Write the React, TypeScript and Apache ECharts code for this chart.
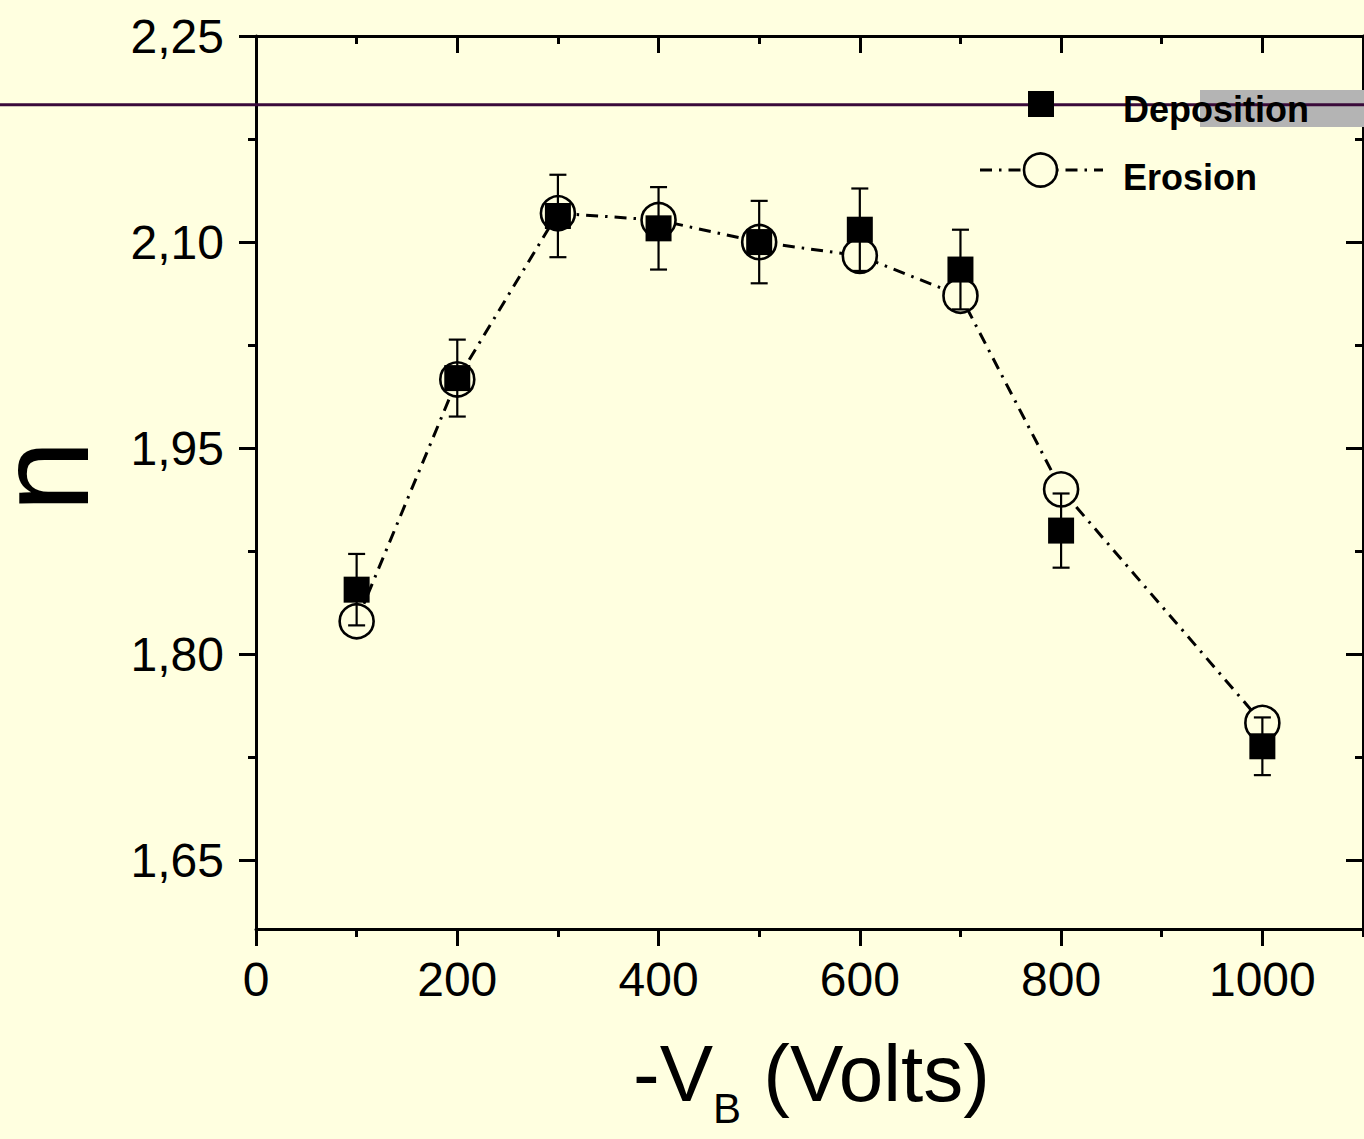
import React, { useEffect, useRef } from 'react';
import * as echarts from 'echarts';

// ---------- data ----------
const voltage = [100, 200, 300, 400, 500, 600, 700, 800, 1000];
const deposition = [1.847, 2.001, 2.119, 2.110, 2.100, 2.109, 2.080, 1.890, 1.733];
const depositionErr = [0.026, 0.028, 0.030, 0.030, 0.030, 0.030, 0.029, 0.027, 0.021];
const erosion = [1.824, 2.000, 2.121, 2.116, 2.100, 2.090, 2.061, 1.920, 1.750];

const xMajorTicks = [0, 200, 400, 600, 800, 1000];
const xMinorTicks = [100, 300, 500, 700, 900, 1100];
const yMajorTicks = [1.65, 1.80, 1.95, 2.10, 2.25];
const yMinorTicks = [1.725, 1.875, 2.025, 2.175];
const referenceLevel = 2.2;
const seriesNames = ['Deposition', 'Erosion'];
const yAxisName = 'n';
const xAxisNameParts = ['-V', 'B', ' (Volts)'];

// ---------- styles ----------
const FONT = '"Liberation Sans", Arial, Helvetica, sans-serif';
const BG = '#FFFFE0';
const INK = '#000000';
const DASH_DOT = [12, 7, 2.5, 7];

const X_RANGE = { min: 0, max: 1100 };
const Y_RANGE = { min: 1.6, max: 2.25 };

function xAxisDef(position: 'top' | 'bottom', ticks: number[], len: number, major: boolean, labels: boolean) {
  return {
    type: 'value',
    position,
    ...X_RANGE,
    splitLine: { show: false },
    axisLine: { show: major, onZero: false, lineStyle: { color: INK, width: 3 } },
    axisTick: {
      show: true,
      inside: position === 'top',
      length: len,
      customValues: ticks,
      lineStyle: { color: INK, width: 3 },
    },
    axisLabel: labels
      ? {
          show: true,
          customValues: ticks,
          margin: 26,
          color: INK,
          fontFamily: FONT,
          fontSize: 48,
          formatter: (v: number) => String(v),
        }
      : { show: false },
  };
}

function yAxisDef(position: 'left' | 'right', ticks: number[], len: number, major: boolean, labels: boolean) {
  return {
    type: 'value',
    position,
    ...Y_RANGE,
    splitLine: { show: false },
    axisLine: { show: major, onZero: false, lineStyle: { color: INK, width: 3 } },
    axisTick: {
      show: true,
      inside: position === 'right',
      length: len,
      customValues: ticks,
      lineStyle: { color: INK, width: 3 },
    },
    axisLabel: labels
      ? {
          show: true,
          customValues: ticks,
          margin: 32,
          color: INK,
          fontFamily: FONT,
          fontSize: 48,
          formatter: (v: number) => v.toFixed(2).replace('.', ','),
        }
      : { show: false },
  };
}

export default function App() {
  const ref = useRef<HTMLDivElement | null>(null);

  useEffect(() => {
    if (!ref.current) return;
    const chart = echarts.init(ref.current, undefined, { renderer: 'svg' });

    const option: any = {
      animation: false,
      backgroundColor: BG,
      grid: { left: 256, top: 36, right: 1, bottom: 210, containLabel: false, outerBoundsMode: 'none' },
      xAxis: [
        xAxisDef('bottom', xMajorTicks, 17, true, true),
        xAxisDef('bottom', xMinorTicks, 8, false, false),
        xAxisDef('top', xMajorTicks, 17, true, false),
        xAxisDef('top', xMinorTicks, 8, false, false),
      ],
      yAxis: [
        yAxisDef('left', yMajorTicks, 17, true, true),
        yAxisDef('left', yMinorTicks, 8, false, false),
        yAxisDef('right', yMajorTicks, 17, true, false),
        yAxisDef('right', yMinorTicks, 8, false, false),
      ],
      series: [
        {
          name: seriesNames[1],
          type: 'line',
          xAxisIndex: 0,
          yAxisIndex: 0,
          data: voltage.map((v, i) => [v, erosion[i]]),
          symbol: 'circle',
          symbolSize: 34,
          showAllSymbol: true,
          itemStyle: { color: BG, borderColor: INK, borderWidth: 2.6, opacity: 1 },
          lineStyle: { color: INK, width: 3, type: DASH_DOT },
          z: 2,
          silent: true,
        },
        {
          name: seriesNames[0],
          type: 'scatter',
          xAxisIndex: 0,
          yAxisIndex: 0,
          data: voltage.map((v, i) => [v, deposition[i]]),
          symbol: 'rect',
          symbolSize: 26,
          itemStyle: { color: INK, opacity: 1 },
          z: 3,
          silent: true,
        },
        {
          name: 'errorbars',
          type: 'custom',
          xAxisIndex: 0,
          yAxisIndex: 0,
          data: voltage.map((v, i) => [v, deposition[i] - depositionErr[i], deposition[i] + depositionErr[i]]),
          encode: { x: 0, y: [1, 2] },
          z: 4,
          silent: true,
          renderItem: (_params: any, api: any) => {
            const x = api.value(0);
            const lo = api.coord([x, api.value(1)]);
            const hi = api.coord([x, api.value(2)]);
            const hw = 8.5;
            const style = { stroke: INK, lineWidth: 2.2, fill: null };
            return {
              type: 'group',
              children: [
                { type: 'line', shape: { x1: lo[0], y1: lo[1], x2: hi[0], y2: hi[1] }, style },
                { type: 'line', shape: { x1: lo[0] - hw, y1: lo[1], x2: lo[0] + hw, y2: lo[1] }, style },
                { type: 'line', shape: { x1: hi[0] - hw, y1: hi[1], x2: hi[0] + hw, y2: hi[1] }, style },
              ],
            };
          },
        },
      ],
    };
    chart.setOption(option);

    const width = chart.getWidth();
    const yRef = chart.convertToPixel({ yAxisIndex: 0 }, referenceLevel) as number;

    // x title pieces (Liberation Sans advance widths: '-' .333, 'V' .667, 'B' .667)
    const titleX0 = 633;
    const mainSize = 80;
    const subSize = 42;
    const subX = titleX0 + (0.333 + 0.667) * mainSize;
    const restX = subX + 0.667 * subSize;

    chart.setOption({
      graphic: [
        {
          type: 'rect',
          id: 'grayPatch',
          z: 10,
          shape: { x: 1200, y: 90, width: 164, height: 37 },
          style: { fill: '#b4b4b4' },
          silent: true,
        },
        {
          type: 'line',
          id: 'refLine',
          z: 11,
          shape: { x1: 0, y1: yRef, x2: width, y2: yRef },
          style: { stroke: '#3a0a3a', lineWidth: 3 },
          silent: true,
        },
        // legend: Deposition
        {
          type: 'rect',
          id: 'legSquare',
          z: 12,
          shape: { x: 1028, y: 91, width: 26, height: 26 },
          style: { fill: INK },
          silent: true,
        },
        {
          type: 'text',
          id: 'legText1',
          z: 12,
          x: 1123,
          y: 109,
          style: {
            text: seriesNames[0],
            fill: INK,
            font: `bold 36px ${FONT}`,
            textAlign: 'left',
            textVerticalAlign: 'middle',
          },
          silent: true,
        },
        // legend: Erosion
        {
          type: 'line',
          id: 'legLine',
          z: 12,
          shape: { x1: 980, y1: 170, x2: 1103, y2: 170 },
          style: { stroke: INK, lineWidth: 3, lineDash: DASH_DOT },
          silent: true,
        },
        {
          type: 'circle',
          id: 'legCircle',
          z: 13,
          shape: { cx: 1040.5, cy: 170, r: 16.5 },
          style: { fill: BG, stroke: INK, lineWidth: 2.6 },
          silent: true,
        },
        {
          type: 'text',
          id: 'legText2',
          z: 12,
          x: 1123,
          y: 177,
          style: {
            text: seriesNames[1],
            fill: INK,
            font: `bold 36px ${FONT}`,
            textAlign: 'left',
            textVerticalAlign: 'middle',
          },
          silent: true,
        },
        // y axis name
        {
          type: 'text',
          id: 'yName',
          z: 12,
          x: 43,
          y: 476,
          rotation: Math.PI / 2,
          style: {
            text: yAxisName,
            fill: INK,
            font: `130px ${FONT}`,
            lineHeight: 80,
            textAlign: 'center',
            textVerticalAlign: 'middle',
          },
          silent: true,
        },
        // x axis title: -V_B (Volts)
        {
          type: 'text',
          id: 'xName1',
          z: 12,
          x: titleX0,
          y: 1073,
          style: {
            text: xAxisNameParts[0],
            fill: INK,
            font: `${mainSize}px ${FONT}`,
            textAlign: 'left',
            textVerticalAlign: 'middle',
          },
          silent: true,
        },
        {
          type: 'text',
          id: 'xName2',
          z: 12,
          x: subX,
          y: 1108,
          style: {
            text: xAxisNameParts[1],
            fill: INK,
            font: `${subSize}px ${FONT}`,
            textAlign: 'left',
            textVerticalAlign: 'middle',
          },
          silent: true,
        },
        {
          type: 'text',
          id: 'xName3',
          z: 12,
          x: restX,
          y: 1073,
          style: {
            text: xAxisNameParts[2],
            fill: INK,
            font: `${mainSize}px ${FONT}`,
            textAlign: 'left',
            textVerticalAlign: 'middle',
          },
          silent: true,
        },
      ],
    });

    return () => {
      chart.dispose();
    };
  }, []);

  return (
    <div
      ref={ref}
      style={{ position: 'absolute', left: 0, top: 0, width: 1364, height: 1139 }}
    />
  );
}
